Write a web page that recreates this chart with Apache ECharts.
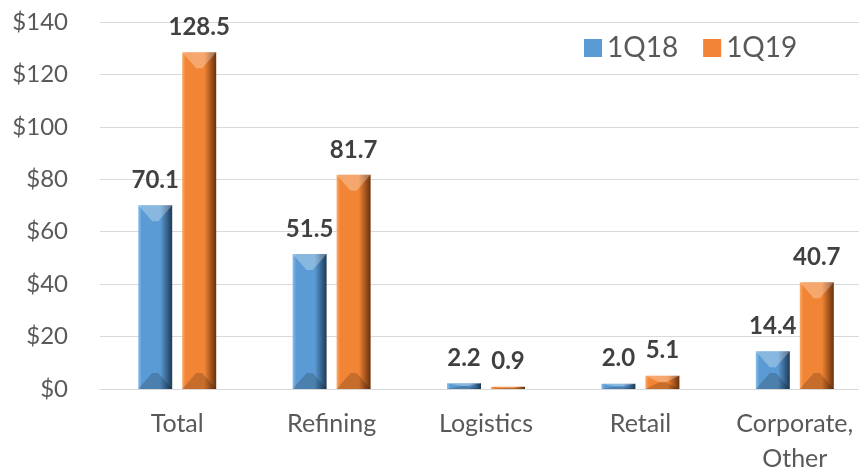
<!DOCTYPE html>
<html>
<head>
<meta charset="utf-8">
<script src="https://cdn.jsdelivr.net/npm/echarts@6/dist/echarts.min.js"></script>
<style>
html,body{margin:0;padding:0;background:#fff;}
#chart{width:859px;height:469px;}
</style>
</head>
<body>
<div id="chart"></div>
<script>
const categories = ['Total', 'Refining', 'Logistics', 'Retail', 'Corporate,\nOther'];
const seriesNames = ['1Q18', '1Q19'];
const q18 = [70.1, 51.5, 2.2, 2.0, 14.4];
const q19 = [128.5, 81.7, 0.9, 5.1, 40.7];
const yMin = 0, yMax = 140, yStep = 20;

const FONT = 'Lato, "Open Sans", sans-serif';
const palettes = [
  {face: '#5B9BD5', light: '#8EC0EA', dark: '#1C3A56'},
  {face: '#F28535', light: '#F8AB6A', dark: '#6A300C'}
];
const offsets = [-22, 22];
const BAR_W = 34;

function makeRender(idx) {
  const p = palettes[idx];
  return function (params, api) {
    const cat = api.value(0), val = api.value(1);
    const base = api.coord([cat, 0]);
    const top = api.coord([cat, val]);
    const cx = base[0] + offsets[idx];
    const x0 = cx - BAR_W / 2, x1 = cx + BAR_W / 2;
    const y0 = top[1], y1 = base[1];
    const h = y1 - y0;
    const t = Math.min(16, h / 2);
    const grad = new echarts.graphic.LinearGradient(0, 0, 1, 0, [
      {offset: 0, color: p.light},
      {offset: 0.1, color: p.face},
      {offset: 0.65, color: p.face},
      {offset: 1, color: p.dark}
    ]);
    return {
      type: 'group',
      children: [
        {type: 'rect', shape: {x: x0, y: y0, width: BAR_W, height: h}, style: {fill: grad}},
        {type: 'polygon', shape: {points: [[x0, y0], [x1, y0], [cx + 3, y0 + t], [cx - 3, y0 + t]]},
          style: {fill: 'rgba(255,255,255,0.28)'}},
        {type: 'polygon', shape: {points: [[x0, y1], [x1, y1], [cx + 3, y1 - t], [cx - 3, y1 - t]]},
          style: {fill: 'rgba(0,0,0,0.18)'}},
        {type: 'text', style: {
          x: cx, y: y0 - 13, text: val.toFixed(1), align: 'center', verticalAlign: 'bottom',
          fontSize: 24, fontWeight: 'bold', fontFamily: FONT, fill: '#404040'
        }}
      ]
    };
  };
}

const chart = echarts.init(document.getElementById('chart'), null, {renderer: 'canvas'});
chart.setOption({
  animation: false,
  backgroundColor: '#fff',
  grid: {left: 100, top: 22, width: 772, height: 367, containLabel: false, outerBoundsMode: 'none'},
  legend: {
    data: seriesNames,
    left: 579, top: 29,
    icon: 'rect', itemWidth: 18, itemHeight: 18, itemGap: 25,
    textStyle: {fontSize: 28, fontFamily: FONT, color: '#595959', padding: [0, 0, 0, 0]}
  },
  xAxis: {
    type: 'category', data: categories,
    axisLine: {lineStyle: {color: '#D9D9D9', width: 1}},
    axisTick: {show: false},
    axisLabel: {fontSize: 25, fontFamily: FONT, color: '#595959', margin: 17, lineHeight: 35, interval: 0}
  },
  yAxis: {
    type: 'value', min: yMin, max: yMax, interval: yStep,
    axisLine: {show: false}, axisTick: {show: false},
    splitLine: {lineStyle: {color: '#D9D9D9', width: 1}},
    axisLabel: {fontSize: 24, fontFamily: FONT, color: '#595959', margin: 32,
      formatter: v => '$' + v}
  },
  series: [
    {name: seriesNames[0], type: 'custom', renderItem: makeRender(0), itemStyle: {color: palettes[0].face},
      encode: {x: 0, y: 1}, data: q18.map((v, i) => [i, v])},
    {name: seriesNames[1], type: 'custom', renderItem: makeRender(1), itemStyle: {color: palettes[1].face},
      encode: {x: 0, y: 1}, data: q19.map((v, i) => [i, v])}
  ]
});
</script>
</body>
</html>
